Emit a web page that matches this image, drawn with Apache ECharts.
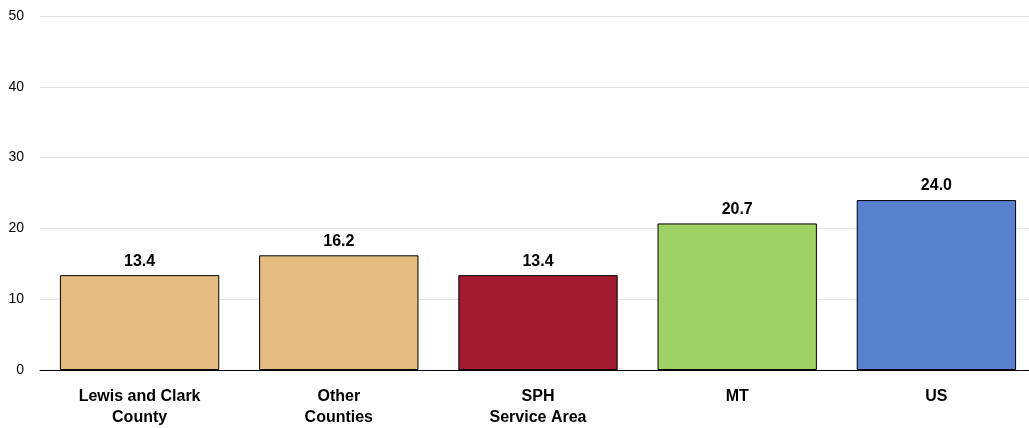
<!DOCTYPE html>
<html><head><meta charset="utf-8">
<script src="https://cdn.jsdelivr.net/npm/echarts@6/dist/echarts.min.js"></script>
<style>html,body{margin:0;padding:0;background:#fff;overflow:hidden}#c{width:1036px;height:428px}</style>
</head><body><div id="c"></div>
<script>
const categories = ["Lewis and Clark\nCounty", "Other\nCounties", "SPH\nService Area", "MT", "US"];
const values = [13.4, 16.2, 13.4, 20.7, 24.0];
const colors = ["#E4BC80", "#E4BC80", "#A21A30", "#A0D164", "#5881D0"];
const FONT = "'Liberation Sans Narrow', 'Arial Narrow', 'Liberation Sans', Arial, sans-serif";
const chart = echarts.init(document.getElementById('c'));
chart.setOption({
  animation: false,
  grid: {left: 40, right: 0, top: 16, bottom: 54, containLabel: false},
  xAxis: {
    type: 'category', data: categories,
    axisLine: {lineStyle: {color: '#000', width: 1}},
    axisTick: {show: false},
    axisLabel: {fontFamily: FONT, fontWeight: 'bold', fontSize: 16, color: '#000', margin: 16, lineHeight: 21, interval: 0}
  },
  yAxis: {
    type: 'value', min: 0, max: 50, interval: 10,
    axisLine: {show: false}, axisTick: {show: false},
    splitLine: {lineStyle: {color: '#e6e6e6', width: 1}},
    axisLabel: {fontFamily: FONT, fontSize: 14, color: '#000', margin: 16}
  },
  series: [{
    type: 'bar', barCategoryGap: '20%',
    data: values.map((v, i) => ({value: v, itemStyle: {color: colors[i]}})),
    itemStyle: {borderColor: '#000', borderWidth: 1},
    label: {show: true, position: 'top', distance: 6, fontFamily: FONT, fontWeight: 'bold', fontSize: 16, color: '#000',
      formatter: p => p.value.toFixed(1)}
  }]
});
</script></body></html>
